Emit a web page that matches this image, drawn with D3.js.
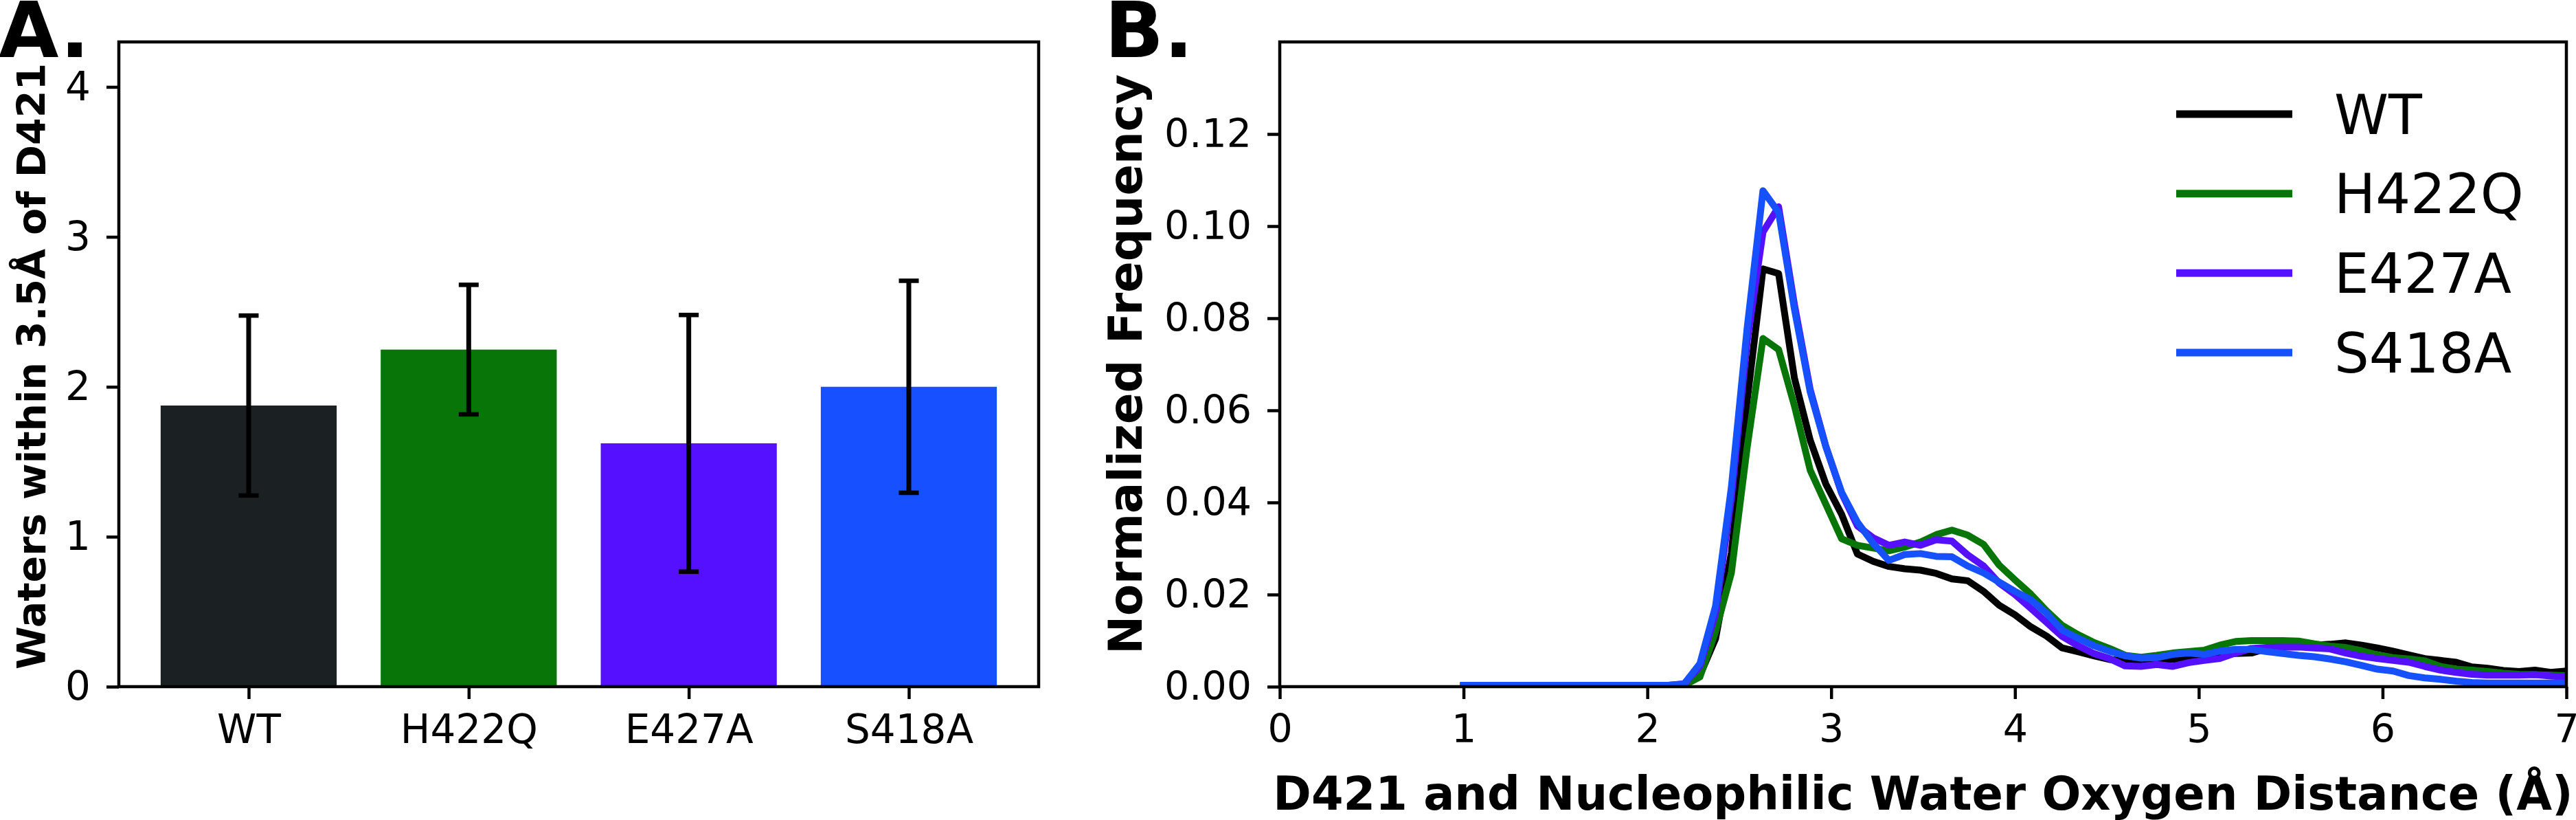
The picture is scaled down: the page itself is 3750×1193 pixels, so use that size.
<!DOCTYPE html>
<html>
<head>
<meta charset="utf-8">
<script src="https://cdn.jsdelivr.net/npm/d3@7"></script>
<style>
html,body{margin:0;padding:0;background:#fff;}
svg{display:block;}
text{font-family:"DejaVu Sans",sans-serif;}
</style>
</head>
<body>
<script>
// ---------- Panel A data ----------
const categories = ["WT", "H422Q", "E427A", "S418A"];
const waterMeans = [1.875, 2.248, 1.623, 2.000];
const waterErrors = [0.600, 0.432, 0.856, 0.707];
const barColors = ["#1b2122", "#087508", "#5511ff", "#1650ff"];
const yTicksA = [0, 1, 2, 3, 4];

// ---------- Panel B data ----------
const distance = [1.000,1.086,1.171,1.257,1.343,1.429,1.514,1.600,1.686,1.771,1.857,1.943,2.029,2.114,2.200,2.286,2.371,2.457,2.543,2.629,2.714,2.800,2.886,2.971,3.057,3.143,3.229,3.314,3.400,3.486,3.571,3.657,3.743,3.829,3.914,4.000,4.086,4.171,4.257,4.343,4.429,4.514,4.600,4.686,4.771,4.857,4.943,5.029,5.114,5.200,5.286,5.371,5.457,5.543,5.629,5.714,5.800,5.886,5.971,6.057,6.143,6.229,6.314,6.400,6.486,6.571,6.657,6.743,6.829,6.914,7.000];
const freqWT = [0.0001,0.0001,0.0001,0.0001,0.0001,0.0001,0.0001,0.0001,0.0001,0.0001,0.0001,0.0001,0.0001,0.0001,0.0002,0.0025,0.0104,0.0291,0.0622,0.0907,0.0897,0.0670,0.0535,0.0440,0.0374,0.0288,0.0272,0.0261,0.0256,0.0253,0.0246,0.0234,0.0230,0.0207,0.0177,0.0156,0.0130,0.0110,0.0084,0.0076,0.0067,0.0059,0.0056,0.0058,0.0061,0.0059,0.0063,0.0067,0.0070,0.0072,0.0073,0.0083,0.0087,0.0089,0.0090,0.0092,0.0095,0.0090,0.0084,0.0077,0.0069,0.0061,0.0057,0.0053,0.0043,0.0040,0.0035,0.0033,0.0036,0.0031,0.0034];
const freqH422Q = [0.0002,0.0002,0.0002,0.0002,0.0002,0.0002,0.0002,0.0002,0.0002,0.0002,0.0002,0.0002,0.0002,0.0002,0.0003,0.0021,0.0120,0.0247,0.0520,0.0756,0.0732,0.0610,0.0470,0.0396,0.0321,0.0307,0.0301,0.0295,0.0303,0.0314,0.0330,0.0340,0.0329,0.0309,0.0264,0.0232,0.0201,0.0165,0.0133,0.0113,0.0096,0.0083,0.0068,0.0064,0.0068,0.0073,0.0076,0.0079,0.0090,0.0098,0.0100,0.0100,0.0100,0.0099,0.0093,0.0088,0.0085,0.0078,0.0069,0.0063,0.0060,0.0056,0.0044,0.0038,0.0036,0.0033,0.0029,0.0027,0.0026,0.0025,0.0024];
const freqE427A = [0.0003,0.0003,0.0003,0.0003,0.0003,0.0003,0.0003,0.0003,0.0003,0.0003,0.0003,0.0003,0.0003,0.0003,0.0006,0.0045,0.0160,0.0410,0.0750,0.0987,0.1042,0.0830,0.0645,0.0522,0.0420,0.0349,0.0323,0.0307,0.0314,0.0307,0.0319,0.0316,0.0286,0.0262,0.0225,0.0200,0.0170,0.0140,0.0109,0.0089,0.0072,0.0061,0.0045,0.0044,0.0048,0.0044,0.0052,0.0057,0.0061,0.0073,0.0083,0.0085,0.0086,0.0086,0.0084,0.0082,0.0073,0.0066,0.0061,0.0057,0.0053,0.0044,0.0036,0.0031,0.0027,0.0025,0.0025,0.0025,0.0026,0.0023,0.0021];
const freqS418A = [0.0003,0.0003,0.0003,0.0003,0.0003,0.0003,0.0003,0.0003,0.0003,0.0003,0.0003,0.0003,0.0003,0.0003,0.0006,0.0050,0.0175,0.0433,0.0779,0.1077,0.1030,0.0820,0.0640,0.0521,0.0422,0.0357,0.0311,0.0274,0.0287,0.0289,0.0283,0.0282,0.0262,0.0247,0.0227,0.0207,0.0189,0.0160,0.0123,0.0105,0.0089,0.0077,0.0067,0.0062,0.0063,0.0070,0.0073,0.0070,0.0077,0.0081,0.0081,0.0076,0.0072,0.0068,0.0065,0.0060,0.0054,0.0046,0.0038,0.0034,0.0024,0.0019,0.0016,0.0012,0.0009,0.0008,0.0008,0.0008,0.0008,0.0008,0.0008];
const seriesNames = ["WT", "H422Q", "E427A", "S418A"];
const lineColors = ["#000000", "#087508", "#5511ff", "#1650ff"];
const yTicksB = [0, 0.02, 0.04, 0.06, 0.08, 0.10, 0.12];
const xTicksB = [0, 1, 2, 3, 4, 5, 6, 7];

const series = [freqWT, freqH422Q, freqE427A, freqS418A];

const W = 3750, H = 1193;
const svg = d3.select("body").append("svg").attr("width", W).attr("height", H);
svg.append("rect").attr("width", W).attr("height", H).attr("fill", "#fff");

const FONT = "'DejaVu Sans', sans-serif";
const spineW = 4.5, tickLen = 18, tickW = 4.5;

function styleAxis(g, size) {
  g.attr("font-family", FONT).attr("font-size", size);
  g.select(".domain").remove();
  g.selectAll(".tick line").attr("stroke", "#000").attr("stroke-width", tickW);
  g.selectAll(".tick text").attr("fill", "#000");
}

// ================= Panel A =================
const A = {left: 173, right: 1512, top: 61, bottom: 999};
const xA = d3.scaleLinear().domain([-0.59, 3.59]).range([A.left, A.right]);
const yA = d3.scaleLinear().domain([0, 4.3]).range([A.bottom, A.top]);
const gA = svg.append("g");

gA.selectAll("rect.bar").data(waterMeans).enter().append("rect")
  .attr("class", "bar")
  .attr("x", (d, i) => xA(i - 0.4))
  .attr("width", (d, i) => xA(i + 0.4) - xA(i - 0.4))
  .attr("y", d => yA(d))
  .attr("height", d => yA(0) - yA(d))
  .attr("fill", (d, i) => barColors[i]);

const capHalf = 14.5;
const eb = gA.selectAll("g.err").data(waterMeans).enter().append("g").attr("class", "err");
eb.append("line")
  .attr("x1", (d, i) => xA(i)).attr("x2", (d, i) => xA(i))
  .attr("y1", (d, i) => yA(d - waterErrors[i])).attr("y2", (d, i) => yA(d + waterErrors[i]))
  .attr("stroke", "#000").attr("stroke-width", 7);
eb.append("line")
  .attr("x1", (d, i) => xA(i) - capHalf).attr("x2", (d, i) => xA(i) + capHalf)
  .attr("y1", (d, i) => yA(d + waterErrors[i])).attr("y2", (d, i) => yA(d + waterErrors[i]))
  .attr("stroke", "#000").attr("stroke-width", 6.5);
eb.append("line")
  .attr("x1", (d, i) => xA(i) - capHalf).attr("x2", (d, i) => xA(i) + capHalf)
  .attr("y1", (d, i) => yA(d - waterErrors[i])).attr("y2", (d, i) => yA(d - waterErrors[i]))
  .attr("stroke", "#000").attr("stroke-width", 6.5);

const axAy = gA.append("g").attr("transform", `translate(${A.left},0)`)
  .call(d3.axisLeft(yA).tickValues(yTicksA).tickFormat(d3.format("d")).tickSize(tickLen).tickPadding(23));
styleAxis(axAy, 58);
const axAx = gA.append("g").attr("transform", `translate(0,${A.bottom})`)
  .call(d3.axisBottom(xA).tickValues([0, 1, 2, 3]).tickFormat(i => categories[i]).tickSize(tickLen).tickPadding(23));
styleAxis(axAx, 58);

gA.append("rect").attr("x", A.left).attr("y", A.top)
  .attr("width", A.right - A.left).attr("height", A.bottom - A.top)
  .attr("fill", "none").attr("stroke", "#000").attr("stroke-width", spineW);

gA.append("text").attr("transform", `translate(66,${(A.top + A.bottom) / 2 + 3}) rotate(-90)`)
  .attr("text-anchor", "middle").attr("font-weight", "bold").attr("font-size", 57)
  .text("Waters within 3.5Å of D421");

svg.append("text").attr("x", -2).attr("y", 83).attr("font-weight", "bold").attr("font-size", 113).text("A.");

// ================= Panel B =================
const B = {left: 1863, right: 3736, top: 61, bottom: 999};
const xB = d3.scaleLinear().domain([0, 7]).range([B.left, B.right]);
const yB = d3.scaleLinear().domain([0, 0.14]).range([B.bottom, B.top]);
const gB = svg.append("g");

svg.append("defs").append("clipPath").attr("id", "clipB")
  .append("rect").attr("x", B.left).attr("y", B.top).attr("width", B.right - B.left).attr("height", B.bottom - B.top);

const line = d3.line().x((d, i) => xB(distance[i])).y(d => yB(d));
gB.append("g").attr("clip-path", "url(#clipB)")
  .selectAll("path").data(series).enter().append("path")
  .attr("d", d => line(d))
  .attr("fill", "none")
  .attr("stroke", (d, i) => lineColors[i])
  .attr("stroke-width", 10)
  .attr("stroke-linejoin", "round")
  .attr("stroke-linecap", "square");

const axBy = gB.append("g").attr("transform", `translate(${B.left},0)`)
  .call(d3.axisLeft(yB).tickValues(yTicksB).tickFormat(d3.format(".2f")).tickSize(tickLen).tickPadding(23));
styleAxis(axBy, 57);
const axBx = gB.append("g").attr("transform", `translate(0,${B.bottom})`)
  .call(d3.axisBottom(xB).tickValues(xTicksB).tickFormat(d3.format("d")).tickSize(tickLen).tickPadding(23));
styleAxis(axBx, 57);

gB.append("rect").attr("x", B.left).attr("y", B.top)
  .attr("width", B.right - B.left).attr("height", B.bottom - B.top)
  .attr("fill", "none").attr("stroke", "#000").attr("stroke-width", spineW);

gB.append("text").attr("transform", `translate(1662,${(B.top + B.bottom) / 2}) rotate(-90)`)
  .attr("text-anchor", "middle").attr("font-weight", "bold").attr("font-size", 67)
  .text("Normalized Frequency");
gB.append("text").attr("x", (B.left + B.right) / 2).attr("y", 1178)
  .attr("text-anchor", "middle").attr("font-weight", "bold").attr("font-size", 67)
  .text("D421 and Nucleophilic Water Oxygen Distance (Å)");

svg.append("text").attr("x", 1608).attr("y", 83).attr("font-weight", "bold").attr("font-size", 113).text("B.");

// legend
const legY = d3.scaleLinear().domain([0, 3]).range([166, 513]);
const leg = gB.selectAll("g.leg").data(seriesNames).enter().append("g").attr("class", "leg");
leg.append("line").attr("x1", 3168).attr("x2", 3337)
  .attr("y1", (d, i) => legY(i)).attr("y2", (d, i) => legY(i))
  .attr("stroke", (d, i) => lineColors[i]).attr("stroke-width", 11);
leg.append("text").attr("x", 3398).attr("y", (d, i) => legY(i)).attr("dy", "0.36em")
  .attr("font-size", 80).attr("fill", "#000").text(d => d);
</script>
</body>
</html>
